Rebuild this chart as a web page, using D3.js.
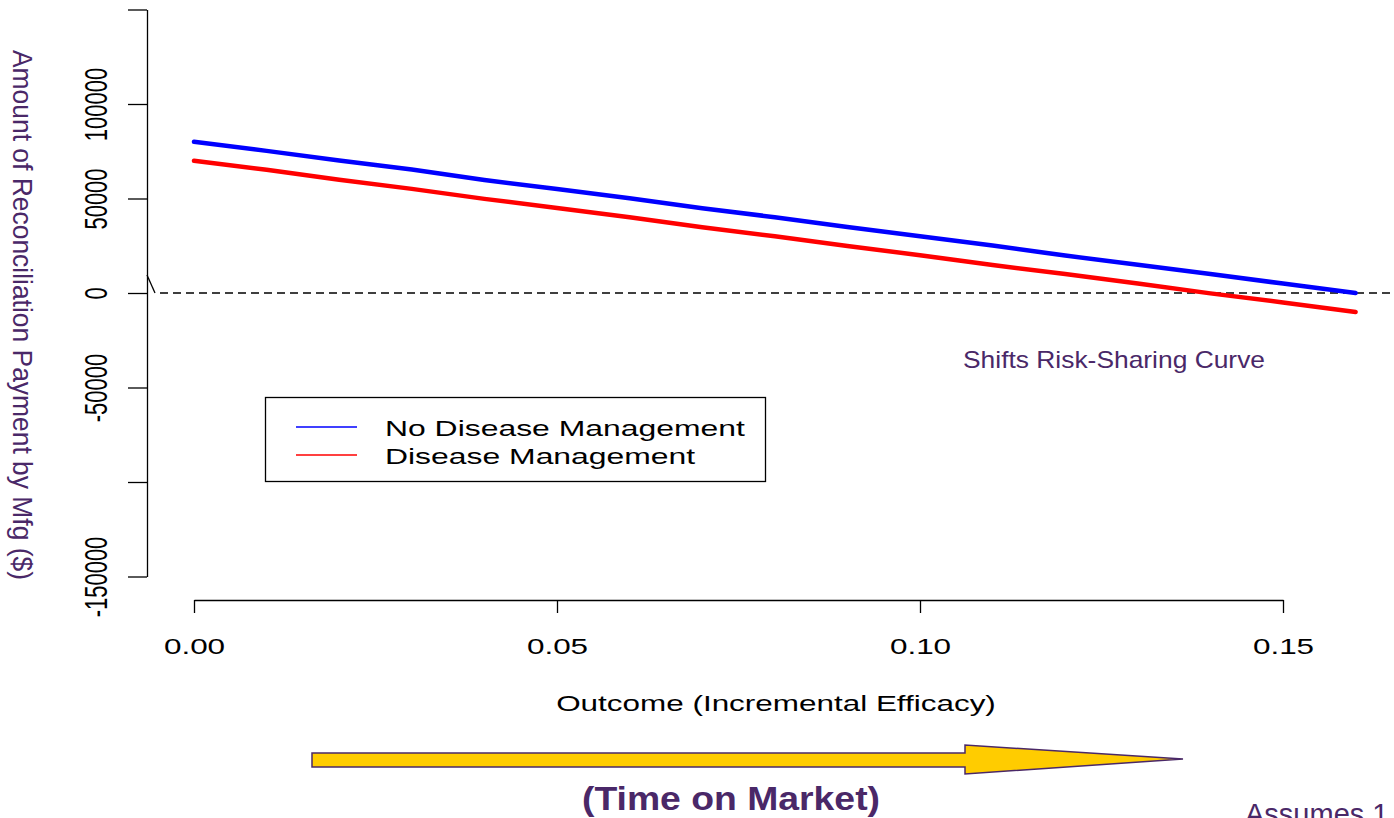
<!DOCTYPE html>
<html>
<head>
<meta charset="utf-8">
<script src="https://cdn.jsdelivr.net/npm/d3@7/dist/d3.min.js"></script>
<style>
  html, body { margin: 0; padding: 0; background: #fff; }
  svg { display: block; }
  text { font-family: "Liberation Sans", Arial, Helvetica, sans-serif; }
</style>
</head>
<body>
<script>
// ---- data ----
const efficacy = [0.00, 0.01, 0.02, 0.03, 0.04, 0.05, 0.06, 0.07, 0.08, 0.09, 0.10, 0.11, 0.12, 0.13, 0.14, 0.15, 0.16];
const noDiseaseMgmt = [80000, 75200, 70100, 65300, 59800, 55000, 50100, 44800, 40100, 34900, 30000, 25100, 19800, 14900, 10000, 5000, 0];
const diseaseMgmt   = [70000, 65200, 59900, 55100, 49800, 45000, 40100, 34800, 30000, 24900, 20000, 14800, 10000, 5000, -200, -5000, -10000];
const seriesNames = ["No Disease Management", "Disease Management"];
const seriesColors = ["#0000ff", "#ff0000"];
const xTicks = [0, 0.05, 0.10, 0.15];
const xTickLabels = ["0.00", "0.05", "0.10", "0.15"];
const yTicks = [150000, 100000, 50000, 0, -50000, -100000, -150000];
const yTickLabels = ["", "100000", "50000", "0", "-50000", "", "-150000"];
const xTitle = "Outcome (Incremental Efficacy)";
const yTitle = "Amount of Reconciliation Payment by Mfg ($)";
const annotation = "Shifts Risk-Sharing Curve";
const arrowCaption = "(Time on Market)";
const footnote = "Assumes 1";

// ---- layout ----
const W = 1394, H = 818;
const SX = 1.43;              // horizontal stretch of the original plot
const purple = "#4a2868";

const svg = d3.select("body").append("svg").attr("width", W).attr("height", H);

const x = d3.scaleLinear().domain([0, 0.15]).range([194, 1283]);
const y = d3.scaleLinear().domain([-150000, 150000]).range([576.5, 9.5]);

// y axis
const yAxisG = svg.append("g").attr("transform", "translate(147,0)")
  .call(d3.axisLeft(y).tickValues(yTicks).tickSize(19).tickSizeOuter(0)
        .tickFormat((d, i) => yTickLabels[i]));
yAxisG.select(".domain").attr("stroke", "#000").attr("stroke-width", 1.3);
yAxisG.selectAll(".tick line").attr("stroke", "#000").attr("stroke-width", 1.3);
yAxisG.selectAll(".tick text")
  .attr("x", null).attr("dy", null)
  .attr("transform", `translate(-40,0) scale(${SX},1) rotate(-90)`)
  .attr("text-anchor", "middle")
  .attr("fill", "#000")
  .style("font-size", "22px")
  .style("font-family", "'Liberation Sans', Arial, sans-serif");

// x axis
const xAxisG = svg.append("g").attr("transform", "translate(0,600)")
  .call(d3.axisBottom(x).tickValues(xTicks).tickSize(13).tickSizeOuter(0)
        .tickFormat((d, i) => xTickLabels[i]));
xAxisG.select(".domain").attr("stroke", "#000").attr("stroke-width", 1.3);
xAxisG.selectAll(".tick line").attr("stroke", "#000").attr("stroke-width", 1.3);
xAxisG.selectAll(".tick text")
  .attr("y", null).attr("dy", null)
  .attr("transform", `translate(0,54) scale(${SX},1)`)
  .attr("text-anchor", "middle")
  .attr("fill", "#000")
  .style("font-size", "22px")
  .style("font-family", "'Liberation Sans', Arial, sans-serif");

// axis break mark
svg.append("line").attr("x1", 147).attr("y1", y(0) - 18).attr("x2", 155).attr("y2", y(0))
  .attr("stroke", "#000").attr("stroke-width", 1.3);

// zero reference line
svg.append("line").attr("x1", 160).attr("x2", W).attr("y1", y(0)).attr("y2", y(0))
  .attr("stroke", "#000").attr("stroke-width", 1.3).attr("stroke-dasharray", "8,5");

// series lines
const line = d3.line().x((d, i) => x(efficacy[i])).y(d => y(d));
[noDiseaseMgmt, diseaseMgmt].forEach((s, k) => {
  svg.append("path").datum(s).attr("d", line)
    .attr("fill", "none").attr("stroke", seriesColors[k])
    .attr("stroke-width", 4.5).attr("stroke-linecap", "round").attr("stroke-linejoin", "round");
});

// axis title
svg.append("text").attr("transform", `translate(776,711) scale(${SX},1)`)
  .attr("text-anchor", "middle").style("font-size", "22px").attr("fill", "#000").text(xTitle);

// y title (overlay, purple)
svg.append("text").attr("transform", "translate(13,315) rotate(90)")
  .attr("text-anchor", "middle").style("font-size", "28px").attr("fill", purple)
  .attr("textLength", 530).attr("lengthAdjust", "spacingAndGlyphs").text(yTitle);

// legend
const lg = svg.append("g");
lg.append("rect").attr("x", 265.5).attr("y", 397.5).attr("width", 500).attr("height", 84)
  .attr("fill", "#fff").attr("stroke", "#000").attr("stroke-width", 1.3);
const legendRowsY = [427, 455];
seriesNames.forEach((nm, k) => {
  lg.append("line").attr("x1", 296).attr("x2", 357).attr("y1", legendRowsY[k]).attr("y2", legendRowsY[k])
    .attr("stroke", seriesColors[k]).attr("stroke-width", 1.5);
  lg.append("text").attr("transform", `translate(385,${legendRowsY[k] + 9}) scale(1.45,1)`)
    .style("font-size", "22px").attr("fill", "#000").text(nm);
});

// annotation
svg.append("text").attr("x", 1114).attr("y", 368).attr("text-anchor", "middle")
  .style("font-size", "24px").attr("fill", purple)
  .attr("textLength", 302).attr("lengthAdjust", "spacingAndGlyphs").text(annotation);

// arrow
const arrowPts = [[312, 753], [965, 753], [965, 745], [1183, 759], [965, 774], [965, 767], [312, 767]];
svg.append("polygon").attr("points", arrowPts.map(p => p.join(",")).join(" "))
  .attr("fill", "#ffcc00").attr("stroke", purple).attr("stroke-width", 1.5).attr("stroke-linejoin", "miter");

svg.append("text").attr("x", 731).attr("y", 810).attr("text-anchor", "middle")
  .style("font-size", "34px").style("font-weight", "bold").attr("fill", purple)
  .attr("textLength", 298).attr("lengthAdjust", "spacingAndGlyphs").text(arrowCaption);

svg.append("text").attr("x", 1245).attr("y", 824)
  .style("font-size", "29px").attr("fill", purple).text(footnote);
</script>
</body>
</html>
